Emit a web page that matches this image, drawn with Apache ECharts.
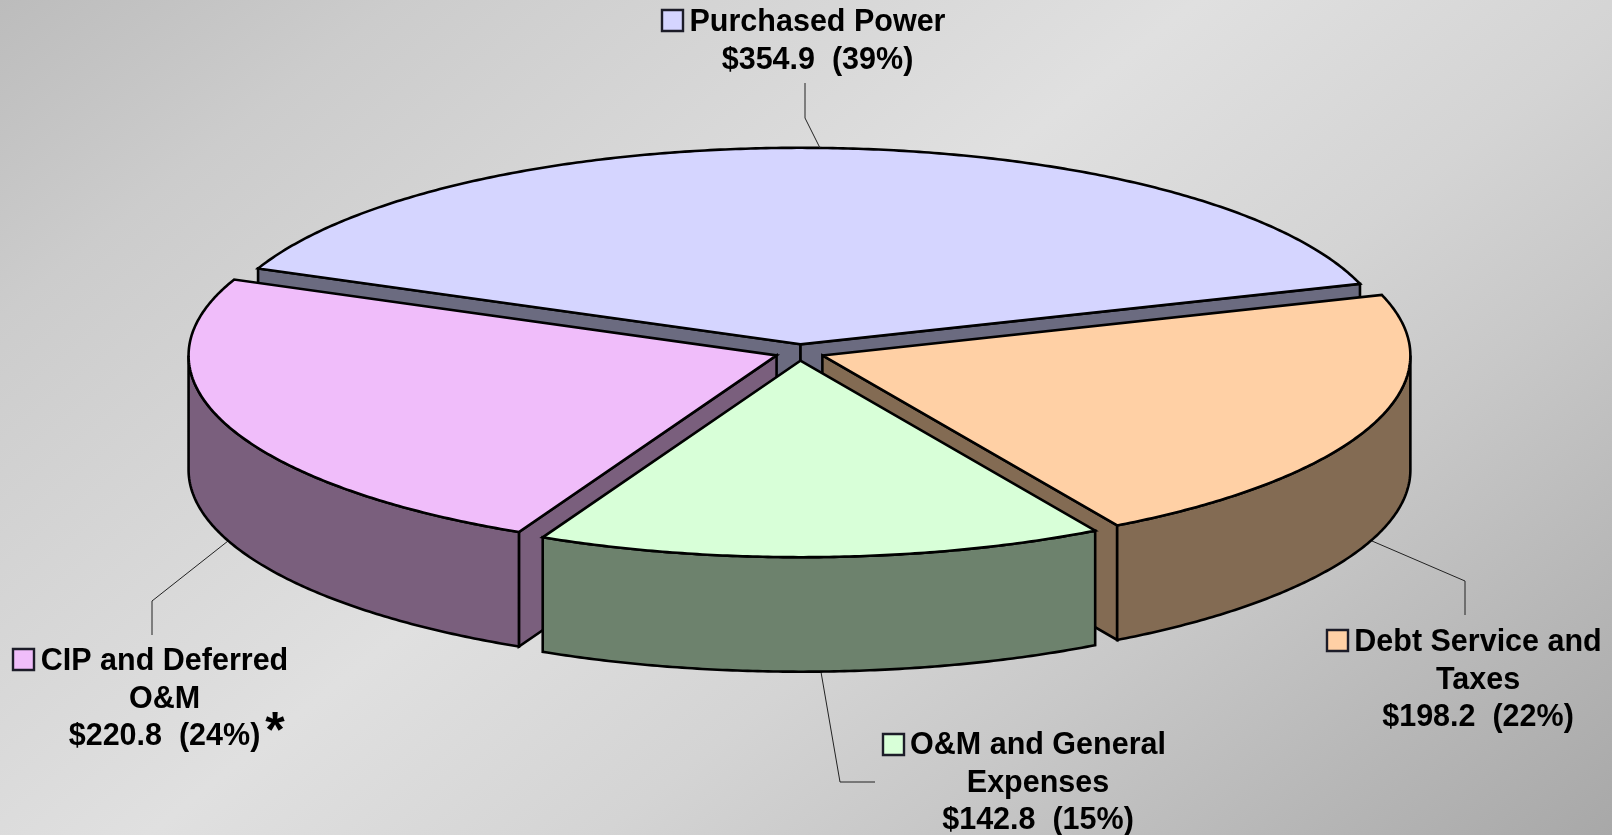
<!DOCTYPE html>
<html>
<head>
<meta charset="utf-8">
<style>html,body{margin:0;padding:0;width:1612px;height:835px;overflow:hidden}#c{width:1612px;height:835px}</style>
<script src="https://cdn.jsdelivr.net/npm/echarts@6/dist/echarts.min.js"></script>
</head>
<body>
<div id="c"></div>
<script>
// ---- data (clockwise from the top slice) ----
var categories = ['Purchased Power', 'Debt Service and Taxes', 'O&M and General Expenses', 'CIP and Deferred O&M'];
var values = [354.9, 198.2, 142.8, 220.8];
var percents = [39, 22, 15, 24];
var nameLines = [['Purchased Power'], ['Debt Service and', 'Taxes'], ['O&M and General', 'Expenses'], ['CIP and Deferred', 'O&M']];

// ---- styles ----
var topColors = ['#d5d5ff', '#ffd0a5', '#d8ffd8', '#f0bdfa'];
var sideColors = ['#6b6b80', '#836b53', '#6d826d', '#7a5f7d'];

// ---- pie geometry ----
var pie = { cx: 799.5, cy: 352.5, rx: 588, ry: 196.5, depth: 114.5, startDeg: -67.3, explode: 24.5 };

// ---- label layout ----
var labelCenterX = [817.5, 1478, 1038, 164.5];
var labelFirstY = [23, 643, 746, 662];
var labelLineGap = 37.5;
var swatchXY = [[662, 10], [1327, 630], [883, 734], [13, 649]];
var swatchSize = 21;
var leaders = [
  [[805, 83], [805, 118], [820, 148]],
  [[1372, 541], [1465, 581], [1465, 615]],
  [[821, 672], [840, 782], [875, 782]],
  [[228, 541], [152, 601], [152, 635]]
];
var footnoteXY = [275, 733];

var total = values.reduce(function (a, b) { return a + b; }, 0);
var RAD = Math.PI / 180;
var FONT = 'bold 30.5px "Liberation Sans", Arial, sans-serif';

function renderSlice(params, api) {
  var i = params.dataIndex;
  var before = 0;
  for (var k = 0; k < i; k++) before += values[k];
  var value = api.value(0);
  var s = pie.startDeg + before / total * 360;
  var e = s + value / total * 360;
  var mid = (s + e) / 2;
  var cx = pie.cx + pie.explode * Math.sin(mid * RAD);
  var cy = pie.cy - pie.explode * (pie.ry / pie.rx) * Math.cos(mid * RAD);
  function P(a, z) {
    return [cx + pie.rx * Math.sin(a * RAD), cy - pie.ry * Math.cos(a * RAD) + z];
  }
  function arc(a, b, z) {
    var pts = [], n = Math.max(2, Math.ceil(Math.abs(b - a) * 2));
    for (var j = 0; j <= n; j++) pts.push(P(a + (b - a) * j / n, z));
    return pts;
  }
  var base = 100 + Math.round(-Math.cos(mid * RAD) * 100) * 10;
  var style = { stroke: '#000', lineWidth: 2.6, lineJoin: 'miter', miterLimit: 3 };
  function poly(points, fill, z2) {
    return { type: 'polygon', z2: z2, silent: true,
      shape: { points: points },
      style: Object.assign({ fill: fill }, style) };
  }
  var kids = [];
  var apex = [cx, cy];
  // radial cut faces that turn toward the viewer
  if (Math.sin(s * RAD) < 0) {
    kids.push(poly([apex, P(s, 0), P(s, pie.depth), [cx, cy + pie.depth]], sideColors[i], base));
  }
  if (Math.sin(e * RAD) > 0) {
    kids.push(poly([apex, P(e, 0), P(e, pie.depth), [cx, cy + pie.depth]], sideColors[i], base));
  }
  // front rim
  var r0 = Math.max(s, 90), r1 = Math.min(e, 270);
  if (r1 > r0) {
    kids.push(poly(arc(r0, r1, 0).concat(arc(r1, r0, pie.depth)), sideColors[i], base + 1));
  }
  // top surface
  kids.push(poly([apex].concat(arc(s, e, 0)), topColors[i], base + 2));

  // leader line, swatch and text
  kids.push({ type: 'polyline', z2: 20, silent: true, shape: { points: leaders[i] },
    style: { stroke: '#222', lineWidth: 1, fill: null } });
  kids.push({ type: 'rect', z2: 5000, silent: true,
    shape: { x: swatchXY[i][0], y: swatchXY[i][1], width: swatchSize, height: swatchSize },
    style: { fill: topColors[i], stroke: '#1c1c28', lineWidth: 2.4 } });
  var lines = nameLines[i].concat(['$' + value.toFixed(1) + '  (' + percents[i] + '%)']);
  lines.forEach(function (t, n) {
    kids.push({ type: 'text', z2: 5000, silent: true,
      style: { text: t, x: labelCenterX[i], y: labelFirstY[i] + n * labelLineGap,
        textAlign: 'center', textVerticalAlign: 'middle', font: FONT, fill: '#000' } });
  });
  if (i === 3) {
    kids.push({ type: 'text', z2: 5000, silent: true,
      style: { text: '*', x: footnoteXY[0], y: footnoteXY[1], textAlign: 'center',
        textVerticalAlign: 'middle', font: 'bold 50px "Liberation Sans", Arial, sans-serif', fill: '#000' } });
  }
  return { type: 'group', children: kids };
}

var chart = echarts.init(document.getElementById('c'), null, { renderer: 'canvas', width: 1612, height: 835 });
chart.setOption({
  animation: false,
  backgroundColor: new echarts.graphic.LinearGradient(0.1805, -0.2766, 0.8195, 1.2766, [
    { offset: 0, color: '#bcbcbc' },
    { offset: 0.15, color: '#cccccc' },
    { offset: 0.3, color: '#d6d6d6' },
    { offset: 0.45, color: '#e0e0e0' },
    { offset: 0.62, color: '#d4d4d4' },
    { offset: 0.733, color: '#c8c8c8' },
    { offset: 0.864, color: '#b8b8b8' },
    { offset: 1, color: '#a8a8a8' }
  ]),
  tooltip: { show: false },
  series: [{
    type: 'custom',
    coordinateSystem: 'none',
    renderItem: renderSlice,
    data: values.map(function (v, i) { return { name: categories[i], value: [v] }; })
  }]
});
</script>
</body>
</html>
